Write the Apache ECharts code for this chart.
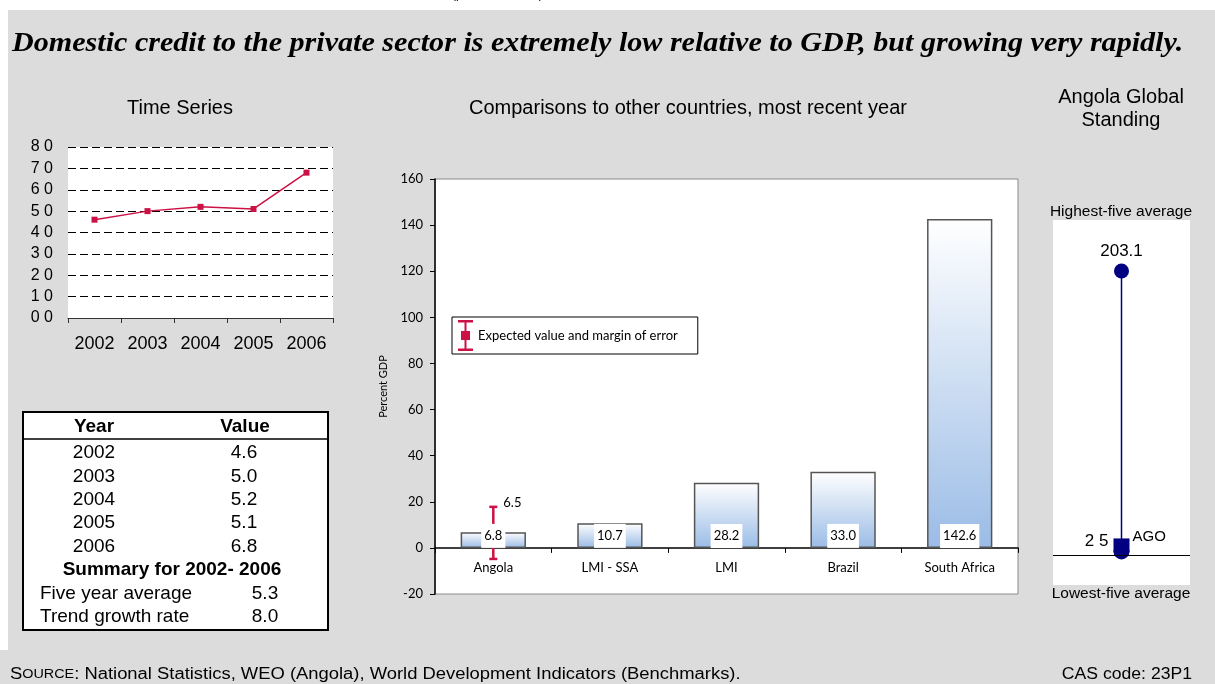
<!DOCTYPE html>
<html><head><meta charset="utf-8">
<script src="https://cdn.jsdelivr.net/npm/echarts/dist/echarts.min.js"></script>
<style>
html,body{margin:0;padding:0;background:#fff;}
#wrap{position:relative;width:1215px;height:684px;overflow:hidden;}
#bg1{position:absolute;left:8px;top:10px;width:1207px;height:674px;background:#dcdcdc;}
#bg2{position:absolute;left:0;top:650px;width:8px;height:34px;background:#dcdcdc;}
#c{position:absolute;left:0;top:0;width:1215px;height:684px;}
</style>
</head><body>
<div id="wrap"><div id="bg1"></div><div id="bg2"></div><div id="c"></div></div>
<script>
// ---- Data ----
const tsYears = ['2002', '2003', '2004', '2005', '2006'];
const tsValues = [4.6, 5.0, 5.2, 5.1, 6.8];
const tsAxisMax = 8;

const summaryLabels = ['Five year average', 'Trend growth rate'];
const summaryValues = [5.3, 8.0];
const summaryTitle = 'Summary for 2002- 2006';

const compCategories = ['Angola', 'LMI - SSA', 'LMI', 'Brazil', 'South Africa'];
const compValues = [6.8, 10.7, 28.2, 33.0, 142.6];
const compTicks = [-20, 160, 20];           // min, max, interval
const angolaExpected = 6.5;
const angolaMargin = 11.3;

const standingHigh = 203.1;
const standingLow = 2.5;
const standingAgo = 6.8;
const standingAgoLabel = 'AGO';

const SANS = 'Liberation Sans';
const GILL = 'Lato';
const RED = '#cc1144';
const NAVY = '#000080';

// ---- Chart ----
const chart = echarts.init(document.getElementById('c'), null, {renderer: 'canvas'});

function fmtSpaced(v) { return Number(v).toFixed(1).replace('.', ' '); }

const barGrid = {left: 435, top: 179, width: 583, height: 415};
const barAxisOffset = -(0 - compTicks[0]) / (compTicks[1] - compTicks[0]) * barGrid.height;

const graphics = [];
// cut-off fragment at very top
graphics.push({type: 'text', left: 452, top: -11, style: {text: '(percent of GDP)', font: '12px ' + SANS, fill: '#000'}});
// headline
graphics.push({type: 'text', x: 12, y: 44, scaleX: 1.075, originX: 0, originY: 0, style: {
  text: 'Domestic credit to the private sector is extremely low relative to GDP, but growing very rapidly.',
  font: 'italic bold 28px "Liberation Serif"', fill: '#000', verticalAlign: 'middle'}});
// panel titles
const titleFont = '20px ' + SANS;
graphics.push({type: 'text', x: 180, y: 108, style: {text: 'Time Series', font: titleFont, fill: '#000', align: 'center', verticalAlign: 'middle'}});
graphics.push({type: 'text', x: 688, y: 108, style: {text: 'Comparisons to other countries, most recent year', font: titleFont, fill: '#000', align: 'center', verticalAlign: 'middle'}});
graphics.push({type: 'text', x: 1121, y: 97, style: {text: 'Angola Global', font: titleFont, fill: '#000', align: 'center', verticalAlign: 'middle'}});
graphics.push({type: 'text', x: 1121, y: 120, style: {text: 'Standing', font: titleFont, fill: '#000', align: 'center', verticalAlign: 'middle'}});
graphics.push({type: 'text', x: 1121, y: 212, style: {text: 'Highest-five average', font: '15.5px ' + SANS, fill: '#000', align: 'center', verticalAlign: 'middle'}});
graphics.push({type: 'text', x: 1121, y: 594, style: {text: 'Lowest-five average', font: '15.5px ' + SANS, fill: '#000', align: 'center', verticalAlign: 'middle'}});

// table
const tblLeft = 23, tblTop = 412, tblRight = 328, tblBottom = 630;
graphics.push({type: 'rect', shape: {x: tblLeft, y: tblTop, width: tblRight - tblLeft, height: tblBottom - tblTop},
  style: {fill: '#fff', stroke: '#000', lineWidth: 2}});
graphics.push({type: 'line', shape: {x1: tblLeft, y1: 439, x2: tblRight, y2: 439}, style: {stroke: '#000', lineWidth: 1.5}});
const tFont = '19px ' + SANS, tBold = 'bold 19px ' + SANS;
graphics.push({type: 'text', x: 94, y: 427, style: {text: 'Year', font: tBold, fill: '#000', align: 'center', verticalAlign: 'middle'}});
graphics.push({type: 'text', x: 245, y: 427, style: {text: 'Value', font: tBold, fill: '#000', align: 'center', verticalAlign: 'middle'}});
const rowH = 23.4, row0 = 453;
tsYears.forEach((y, i) => {
  graphics.push({type: 'text', x: 94, y: row0 + i * rowH, style: {text: y, font: tFont, fill: '#000', align: 'center', verticalAlign: 'middle'}});
  graphics.push({type: 'text', x: 244, y: row0 + i * rowH, style: {text: tsValues[i].toFixed(1), font: tFont, fill: '#000', align: 'center', verticalAlign: 'middle'}});
});
graphics.push({type: 'text', x: 172, y: row0 + 5 * rowH, style: {text: summaryTitle, font: tBold, fill: '#000', align: 'center', verticalAlign: 'middle'}});
summaryLabels.forEach((l, i) => {
  graphics.push({type: 'text', x: 40, y: row0 + (6 + i) * rowH, style: {text: l, font: tFont, fill: '#000', align: 'left', verticalAlign: 'middle'}});
  graphics.push({type: 'text', x: 265, y: row0 + (6 + i) * rowH, style: {text: summaryValues[i].toFixed(1), font: tFont, fill: '#000', align: 'center', verticalAlign: 'middle'}});
});

// footer
graphics.push({type: 'text', x: 10, y: 675, scaleX: 1.15, originX: 0, originY: 0, style: {
  text: '{a|S}{b|OURCE}{a|: National Statistics, WEO (Angola), World Development Indicators (Benchmarks).}',
  verticalAlign: 'middle',
  rich: {a: {fontFamily: SANS, fontSize: 16, fill: '#000'}, b: {fontFamily: SANS, fontSize: 12.5, fill: '#000'}}}});
graphics.push({type: 'text', x: 1192, y: 675, scaleX: 1.1, originX: 0, originY: 0, style: {text: 'CAS code: 23P1', font: '16px ' + SANS, fill: '#000', align: 'right', verticalAlign: 'middle'}});

const legendIcon = 'path://M0,0H15V2.5H8.5V11H12V20H8.5V28.5H15V31H0V28.5H6.5V20H3V11H6.5V2.5H0Z';

const option = {
  animation: false,
  graphic: graphics,
  grid: [
    {left: 68, top: 147, width: 265, height: 171, show: true, backgroundColor: '#fff', borderWidth: 0},
    {left: barGrid.left, top: barGrid.top, width: barGrid.width, height: barGrid.height, show: true, backgroundColor: '#fff', borderColor: '#8a8a8a', borderWidth: 1},
    {left: 1053, top: 220, width: 137, height: 365, show: true, backgroundColor: '#fff', borderWidth: 0}
  ],
  legend: {
    data: [{name: 'Expected value and margin of error', icon: legendIcon}],
    left: 452, top: 317,
    itemWidth: 15, itemHeight: 31, itemGap: 5,
    backgroundColor: '#fff', borderColor: '#000', borderWidth: 1,
    padding: [3, 20, 3, 6],
    textStyle: {fontFamily: GILL, fontSize: 13, color: '#000'},
    selectedMode: false
  },
  xAxis: [
    {gridIndex: 0, type: 'category', data: tsYears, boundaryGap: true,
      axisLine: {lineStyle: {color: '#333', width: 1}},
      axisTick: {show: true, length: 5, lineStyle: {color: '#333'}},
      axisLabel: {fontFamily: SANS, fontSize: 18, color: '#000', margin: 17}},
    {gridIndex: 1, type: 'category', data: compCategories, boundaryGap: true,
      position: 'bottom', offset: barAxisOffset,
      axisLine: {onZero: false, lineStyle: {color: '#000', width: 1.5}},
      axisTick: {show: true, length: 5, interval: 0, lineStyle: {color: '#000'}},
      axisLabel: {fontFamily: GILL, fontSize: 13, color: '#000', margin: 13, interval: 0}},
    {gridIndex: 2, type: 'value', min: 0, max: 1, show: false}
  ],
  yAxis: [
    {gridIndex: 0, type: 'value', min: 0, max: tsAxisMax, interval: 1,
      axisLine: {show: false}, axisTick: {show: false},
      axisLabel: {fontFamily: SANS, fontSize: 16, color: '#000', margin: 15, formatter: fmtSpaced},
      splitLine: {show: true, lineStyle: {color: '#000', type: [8, 4], width: 1}}},
    {gridIndex: 1, type: 'value', min: compTicks[0], max: compTicks[1], interval: compTicks[2],
      name: 'Percent GDP', nameLocation: 'middle', nameGap: 46, nameRotate: 90,
      nameTextStyle: {fontFamily: GILL, fontSize: 11, color: '#000'},
      axisLine: {show: true, onZero: false, lineStyle: {color: '#000', width: 1.5}},
      axisTick: {show: true, length: 5, lineStyle: {color: '#000'}},
      axisLabel: {fontFamily: GILL, fontSize: 13, color: '#000', margin: 12},
      splitLine: {show: false}},
    {gridIndex: 2, type: 'value', min: -21.5, max: 239.6, show: false}
  ],
  series: [
    {type: 'line', xAxisIndex: 0, yAxisIndex: 0, data: tsValues,
      symbol: 'rect', symbolSize: 6,
      lineStyle: {color: RED, width: 1.5}, itemStyle: {color: RED}},
    {type: 'custom', name: 'Expected value and margin of error', xAxisIndex: 1, yAxisIndex: 1, z: 1,
      itemStyle: {color: RED},
      data: [[0, angolaExpected, angolaExpected - angolaMargin, angolaExpected + angolaMargin]],
      renderItem: function (params, api) {
        const x = api.value(0);
        const c = api.coord([x, api.value(1)]);
        const lo = api.coord([x, api.value(2)]);
        const hi = api.coord([x, api.value(3)]);
        const cap = 4;
        const st = {stroke: RED, lineWidth: 2.5};
        return {type: 'group', children: [
          {type: 'line', shape: {x1: c[0], y1: hi[1], x2: c[0], y2: lo[1]}, style: st},
          {type: 'line', shape: {x1: c[0] - cap, y1: hi[1], x2: c[0] + cap, y2: hi[1]}, style: st},
          {type: 'line', shape: {x1: c[0] - cap, y1: lo[1], x2: c[0] + cap, y2: lo[1]}, style: st},
          {type: 'rect', shape: {x: c[0] - 4, y: c[1] - 4, width: 8, height: 8}, style: {fill: RED}},
          {type: 'text', z2: 10, style: {text: api.value(1).toFixed(1), x: c[0] + 10, y: hi[1] - 4,
            font: '13px ' + GILL, fill: '#000', verticalAlign: 'middle'}}
        ]};
      }},
    {type: 'bar', xAxisIndex: 1, yAxisIndex: 1, z: 2, data: compValues,
      barCategoryGap: '44%',
      itemStyle: {
        color: {type: 'linear', x: 0, y: 0, x2: 0, y2: 1,
          colorStops: [{offset: 0, color: '#ffffff'}, {offset: 1, color: '#9bbce6'}]},
        borderColor: '#555', borderWidth: 1.5},
      label: {show: true, position: 'insideBottom', distance: 0,
        backgroundColor: '#fff', padding: [5, 3, 5, 3], lineHeight: 14,
        fontFamily: GILL, fontSize: 13, color: '#000',
        formatter: p => p.value.toFixed(1)}},
    {type: 'line', xAxisIndex: 2, yAxisIndex: 2, symbol: 'none',
      data: [[0.5, standingHigh], [0.5, standingLow]],
      lineStyle: {color: NAVY, width: 1.5},
      markLine: {silent: true, symbol: 'none', label: {show: false},
        lineStyle: {color: '#000', type: 'solid', width: 1}, data: [{yAxis: 0}]}},
    {type: 'scatter', xAxisIndex: 2, yAxisIndex: 2, symbol: 'circle', symbolSize: 15,
      data: [[0.5, standingHigh]], itemStyle: {color: NAVY, opacity: 1},
      label: {show: true, position: 'top', distance: 4, fontFamily: SANS, fontSize: 17, color: '#000',
        formatter: p => p.value[1].toFixed(1)}},
    {type: 'scatter', xAxisIndex: 2, yAxisIndex: 2, symbol: 'circle', symbolSize: 16,
      data: [[0.5, standingLow]], itemStyle: {color: NAVY, opacity: 1},
      label: {show: true, position: 'left', distance: 5, offset: [0, -10], fontFamily: SANS, fontSize: 17, color: '#000',
        formatter: p => fmtSpaced(p.value[1])}},
    {type: 'scatter', xAxisIndex: 2, yAxisIndex: 2, symbol: 'rect', symbolSize: [16, 14],
      data: [[0.5, standingAgo]], itemStyle: {color: NAVY, opacity: 1},
      label: {show: true, position: 'right', distance: 3, offset: [0, -9], fontFamily: SANS, fontSize: 15, color: '#000',
        formatter: () => standingAgoLabel}}
  ]
};
chart.setOption(option);
</script>
</body></html>
